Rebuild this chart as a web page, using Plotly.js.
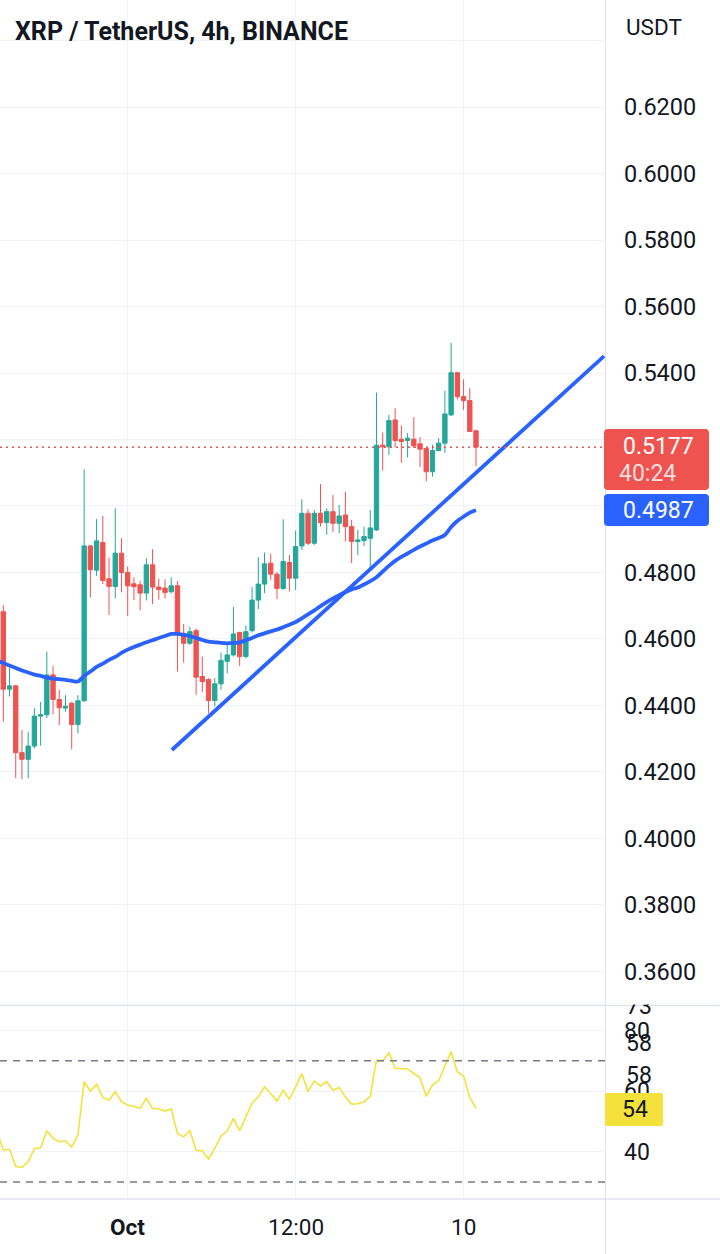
<!DOCTYPE html>
<html><head><meta charset="utf-8">
<script src="https://cdn.plot.ly/plotly-3.0.1.min.js"></script>
<style>html,body{margin:0;padding:0;background:#fff}#chart{width:720px;height:1254px}</style>
</head><body><div id="chart"></div>
<script>
// ---- data (4h candles, index 0..77) ----
const openP  = [0.4700,0.4682,0.4449,0.4459,0.4258,0.4238,0.4278,0.4368,0.4372,0.4492,0.4418,0.4392,0.4407,0.4343,0.4414,0.4880,0.4807,0.4890,0.4781,0.4758,0.4858,0.4800,0.4766,0.4763,0.4738,0.4823,0.4756,0.4753,0.4742,0.4760,0.4617,0.4587,0.4625,0.4487,0.4478,0.4415,0.4465,0.4533,0.4552,0.4620,0.4547,0.4625,0.4717,0.4765,0.4828,0.4795,0.4752,0.4830,0.4783,0.4880,0.4978,0.4888,0.4978,0.4950,0.4983,0.4948,0.4973,0.4938,0.4893,0.4896,0.4903,0.4928,0.5183,0.5178,0.5259,0.5201,0.5197,0.5201,0.5187,0.5173,0.5103,0.5167,0.5189,0.5274,0.5401,0.5329,0.5317,0.5226];
const highP  = [0.4712,0.4702,0.4513,0.4462,0.4326,0.4321,0.4392,0.4411,0.4562,0.4519,0.4447,0.4431,0.4410,0.4431,0.5110,0.4882,0.4961,0.4970,0.4845,0.4993,0.4903,0.4818,0.4785,0.4775,0.4843,0.4870,0.4782,0.4779,0.4786,0.4774,0.4645,0.4637,0.4632,0.4547,0.4482,0.4482,0.4559,0.4582,0.4696,0.4621,0.4640,0.4756,0.4846,0.4860,0.4856,0.4801,0.4960,0.4853,0.4926,0.5020,0.4990,0.4988,0.5066,0.4993,0.5033,0.5003,0.5043,0.4958,0.4928,0.4938,0.4988,0.5341,0.5221,0.5274,0.5294,0.5242,0.5219,0.5267,0.5207,0.5175,0.5184,0.5204,0.5347,0.5491,0.5403,0.5381,0.5354,0.5230];
const lowP   = [0.4640,0.4351,0.4427,0.4181,0.4178,0.4181,0.4271,0.4279,0.4362,0.4373,0.4341,0.4381,0.4268,0.4316,0.4411,0.4725,0.4790,0.4765,0.4672,0.4722,0.4740,0.4669,0.4717,0.4686,0.4716,0.4705,0.4718,0.4722,0.4737,0.4502,0.4529,0.4582,0.4432,0.4440,0.4376,0.4397,0.4447,0.4497,0.4547,0.4519,0.4542,0.4620,0.4690,0.4738,0.4778,0.4720,0.4748,0.4743,0.4747,0.4868,0.4883,0.4883,0.4938,0.4913,0.4922,0.4918,0.4893,0.4828,0.4852,0.4880,0.4808,0.4925,0.5107,0.5154,0.5177,0.5130,0.5146,0.5174,0.5117,0.5074,0.5088,0.5166,0.5160,0.5271,0.5321,0.5289,0.5224,0.5120];
const closeP = [0.4682,0.4449,0.4459,0.4258,0.4238,0.4278,0.4368,0.4372,0.4492,0.4418,0.4393,0.4398,0.4343,0.4414,0.4880,0.4808,0.4895,0.4776,0.4758,0.4858,0.4800,0.4760,0.4757,0.4738,0.4823,0.4756,0.4749,0.4740,0.4760,0.4617,0.4587,0.4622,0.4485,0.4472,0.4415,0.4465,0.4535,0.4552,0.4615,0.4547,0.4622,0.4717,0.4765,0.4826,0.4795,0.4752,0.4833,0.4783,0.4878,0.4978,0.4888,0.4978,0.4950,0.4983,0.4948,0.4970,0.4938,0.4893,0.4898,0.4908,0.4934,0.5183,0.5178,0.5257,0.5197,0.5194,0.5204,0.5181,0.5171,0.5103,0.5167,0.5189,0.5277,0.5401,0.5329,0.5317,0.5224,0.5177];
const maLine = [0.4534,0.4528,0.4520,0.4513,0.4505,0.4499,0.4493,0.4489,0.4484,0.4481,0.4479,0.4477,0.4474,0.4472,0.4489,0.4502,0.4516,0.4526,0.4537,0.4546,0.4558,0.4568,0.4576,0.4583,0.4590,0.4596,0.4603,0.4609,0.4615,0.4615,0.4612,0.4609,0.4603,0.4597,0.4592,0.4590,0.4588,0.4587,0.4588,0.4590,0.4596,0.4603,0.4611,0.4617,0.4623,0.4628,0.4635,0.4643,0.4651,0.4662,0.4674,0.4686,0.4699,0.4711,0.4722,0.4732,0.4741,0.4749,0.4755,0.4764,0.4774,0.4786,0.4803,0.4820,0.4835,0.4847,0.4857,0.4868,0.4878,0.4887,0.4896,0.4904,0.4913,0.4937,0.4955,0.4968,0.4980,0.4987];
const rsiLine = [46.6,40.5,40.8,35.2,34.8,36.7,41.1,41.3,46.9,44.4,43.3,43.6,41.6,45.5,63.1,60.0,62.3,57.9,57.0,59.8,56.5,55.4,55.0,54.3,57.6,54.3,54.1,53.4,54.1,46.0,44.9,46.9,40.5,40.3,37.6,41.1,45.1,46.9,51.0,46.9,51.5,56.1,58.1,61.4,59.2,56.7,60.3,57.3,61.4,65.8,59.8,63.3,61.7,63.1,60.3,61.2,58.1,55.7,55.8,56.5,58.3,70.2,70.0,72.6,67.5,67.4,67.3,65.8,64.5,58.3,62.0,63.4,68.0,73.0,66.4,65.0,57.9,54.3];
const trendX = [28.1, 97.6];
const trendY = [0.4266, 0.5451];
const timeTickIdx = [21, 48, 75];
const timeTickText = ['<b>Oct</b>', '12:00', '10'];
const priceTicks = [0.36,0.38,0.40,0.42,0.44,0.46,0.48,0.50,0.52,0.54,0.56,0.58,0.60,0.62,0.64];
const priceTickText = ['0.3600','0.3800','0.4000','0.4200','0.4400','0.4600','0.4800','','','0.5400','0.5600','0.5800','0.6000','0.6200',''];
const rsiTicks = [40, 60, 80];
const rsiTickText = ['40','60','80'];
const rsiLevels = [70, 30];
const extraRsiLabels = [['73',1007],['58',1043],['58',1075]];
const lastPrice = 0.5177, lastMa = 0.4987, lastRsi = 54;
const countdown = '40:24';

const idx = closeP.map((_, i) => i);
const W = 720, H = 1254;
const px = v => v / W, py = v => 1 - v / H;
const FONT = 'Roboto, "Noto Sans", sans-serif';
const TXT = '#131722';
const GRID = '#F0F3FA';
const GREEN = '#26A69A', RED = '#EF5350', BLUE = '#2962FF', YELLOW = '#F5E13B';

function rrect(x0, y0, x1, y1, r) {
  const X = v => px(v).toFixed(5), Y = v => py(v).toFixed(5);
  return `M${X(x0+r)},${Y(y0)} L${X(x1-r)},${Y(y0)} Q${X(x1)},${Y(y0)} ${X(x1)},${Y(y0+r)} L${X(x1)},${Y(y1-r)} Q${X(x1)},${Y(y1)} ${X(x1-r)},${Y(y1)} L${X(x0+r)},${Y(y1)} Q${X(x0)},${Y(y1)} ${X(x0)},${Y(y1-r)} L${X(x0)},${Y(y0+r)} Q${X(x0)},${Y(y0)} ${X(x0+r)},${Y(y0)} Z`;
}

const traces = [
  { type: 'candlestick', x: idx, open: openP, high: highP, low: lowP, close: closeP,
    xaxis: 'x', yaxis: 'y', whiskerwidth: 0,
    increasing: { line: { color: GREEN, width: 1 }, fillcolor: GREEN },
    decreasing: { line: { color: RED, width: 1 }, fillcolor: RED },
    hoverinfo: 'skip', showlegend: false },
  { type: 'scatter', mode: 'lines', x: idx, y: maLine, xaxis: 'x', yaxis: 'y',
    line: { color: BLUE, width: 3.8, shape: 'spline', smoothing: 0.6 }, hoverinfo: 'skip', showlegend: false },
  { type: 'scatter', mode: 'lines', x: trendX, y: trendY, xaxis: 'x', yaxis: 'y',
    line: { color: BLUE, width: 3.8 }, hoverinfo: 'skip', showlegend: false },
  { type: 'scatter', mode: 'lines', x: idx, y: rsiLine, xaxis: 'x2', yaxis: 'y2',
    line: { color: YELLOW, width: 1.6 }, hoverinfo: 'skip', showlegend: false }
];

const xdom = [0, 605 / W];
const shapes = [
  { type: 'line', xref: 'paper', yref: 'paper', x0: px(605.5), x1: px(605.5), y0: 0, y1: 1, line: { color: '#E0E3EB', width: 1.2 } },
  { type: 'line', xref: 'paper', yref: 'paper', x0: 0, x1: 1, y0: py(1005.5), y1: py(1005.5), line: { color: '#E0E3EB', width: 1.5 } },
  { type: 'line', xref: 'paper', yref: 'paper', x0: 0, x1: 1, y0: py(1199), y1: py(1199), line: { color: '#E0E3EB', width: 1.5 } },
  { type: 'line', xref: 'x domain', yref: 'y', x0: 0, x1: 1, y0: lastPrice, y1: lastPrice, line: { color: RED, width: 1.5, dash: '2px,4px' } },
  { type: 'path', xref: 'paper', yref: 'paper', path: rrect(604, 429, 709, 490, 4), fillcolor: RED, line: { width: 0 } },
  { type: 'path', xref: 'paper', yref: 'paper', path: rrect(604, 494, 709, 526, 4), fillcolor: BLUE, line: { width: 0 } },
  { type: 'path', xref: 'paper', yref: 'paper', path: rrect(605, 1093, 663, 1126, 2), fillcolor: YELLOW, line: { width: 0 } }
];
rsiLevels.forEach(l => shapes.push({ type: 'line', xref: 'x2 domain', yref: 'y2', x0: 0, x1: 1, y0: l, y1: l,
  line: { color: '#787B86', width: 1.3, dash: '7px,6px' } }));

const annotations = [
  { xref: 'paper', yref: 'paper', x: px(13), y: py(32), xanchor: 'left', yanchor: 'middle', showarrow: false,
    text: '<b>XRP / TetherUS, 4h, BINANCE</b>', font: { family: FONT, size: 25, color: TXT } },
  { xref: 'paper', yref: 'paper', x: px(624), y: py(27), xanchor: 'left', yanchor: 'middle', showarrow: false,
    text: 'USDT', font: { family: FONT, size: 22.5, color: TXT } },
  { xref: 'paper', yref: 'paper', x: px(658), y: py(447), xanchor: 'center', yanchor: 'middle', showarrow: false,
    text: lastPrice.toFixed(4), font: { family: FONT, size: 23, color: '#FFFFFF' } },
  { xref: 'paper', yref: 'paper', x: px(647), y: py(474), xanchor: 'center', yanchor: 'middle', showarrow: false,
    text: countdown, font: { family: FONT, size: 23, color: 'rgba(255,255,255,0.82)' } },
  { xref: 'paper', yref: 'paper', x: px(658), y: py(510), xanchor: 'center', yanchor: 'middle', showarrow: false,
    text: lastMa.toFixed(4), font: { family: FONT, size: 23, color: '#FFFFFF' } },
  { xref: 'paper', yref: 'paper', x: px(635), y: py(1109), xanchor: 'center', yanchor: 'middle', showarrow: false,
    text: String(lastRsi), font: { family: FONT, size: 23, color: TXT } }
];
extraRsiLabels.forEach(([t, y]) => annotations.push({ xref: 'paper', yref: 'paper', x: px(624), y: py(y), xanchor: 'left', yanchor: 'middle',
  showarrow: false, text: t, font: { family: FONT, size: 23, color: TXT } }));
// mask above the RSI pane separator
annotations.push({ xref: 'paper', yref: 'paper', x: px(607), y: py(1004.6), xanchor: 'left', yanchor: 'bottom', showarrow: false,
  text: ' ', width: 110, height: 16, bgcolor: '#FFFFFF', borderpad: 0, font: { size: 4 } });
timeTickIdx.forEach((v, k) => annotations.push({ xref: 'x2', yref: 'paper', x: v, y: py(1227), xanchor: 'center', yanchor: 'middle',
  showarrow: false, text: timeTickText[k], font: { family: FONT, size: 22.5, color: TXT } }));

const layout = {
  width: W, height: H, margin: { l: 0, r: 0, t: 0, b: 0 },
  paper_bgcolor: '#FFFFFF', plot_bgcolor: '#FFFFFF', showlegend: false,
  font: { family: FONT, color: TXT },
  boxgap: 0.3, boxgroupgap: 0,
  xaxis: { domain: xdom, range: [0.47, 97.74], anchor: 'y', tickvals: timeTickIdx, showticklabels: false,
    showgrid: true, gridcolor: GRID, gridwidth: 1, zeroline: false, showline: false, ticks: '', rangeslider: { visible: false }, fixedrange: true },
  xaxis2: { domain: xdom, range: [0.47, 97.74], anchor: 'y2', tickvals: timeTickIdx, showticklabels: false,
    showgrid: true, gridcolor: GRID, gridwidth: 1, zeroline: false, showline: false, ticks: '', fixedrange: true },
  yaxis: { domain: [py(1005), 1], range: [0.3499, 0.6522], anchor: 'x', side: 'right',
    tickvals: priceTicks, ticktext: priceTickText, ticks: '', ticklabelstandoff: 18,
    tickfont: { family: FONT, size: 23.5, color: TXT }, showgrid: true, gridcolor: GRID, gridwidth: 1, zeroline: false, showline: false },
  yaxis2: { domain: [py(1199), py(1005)], range: [24.4, 88.4], anchor: 'x2', side: 'right',
    tickvals: rsiTicks, ticktext: rsiTickText, ticks: '', ticklabelstandoff: 18,
    tickfont: { family: FONT, size: 23, color: TXT }, showgrid: true, gridcolor: GRID, gridwidth: 1, zeroline: false, showline: false },
  shapes: shapes, annotations: annotations
};

Plotly.newPlot('chart', traces, layout, { staticPlot: true, displayModeBar: false });
</script>
</body></html>
